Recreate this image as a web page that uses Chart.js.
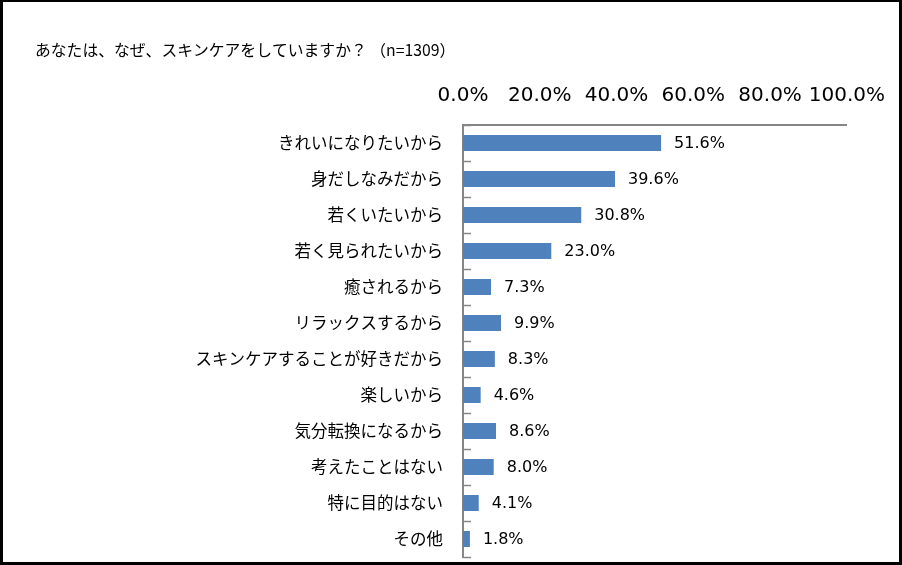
<!DOCTYPE html>
<html>
<head>
<meta charset="utf-8">
<script src="https://cdn.jsdelivr.net/npm/chart.js@4/dist/chart.umd.min.js"></script>
<style>
html,body{margin:0;padding:0;background:#fff;}
#wrap{position:absolute;left:0;top:0;width:902px;height:565px;}
</style>
</head>
<body>
<div id="wrap"><canvas id="c" width="902" height="565"></canvas></div>
<script>
const titleText = 'あなたは、なぜ、スキンケアをしていますか？ （n=1309）';
const categories = [
  'きれいになりたいから',
  '身だしなみだから',
  '若くいたいから',
  '若く見られたいから',
  '癒されるから',
  'リラックスするから',
  'スキンケアすることが好きだから',
  '楽しいから',
  '気分転換になるから',
  '考えたことはない',
  '特に目的はない',
  'その他'
];
const values = [51.6, 39.6, 30.8, 23.0, 7.3, 9.9, 8.3, 4.6, 8.6, 8.0, 4.1, 1.8];
const axisMin = 0;
const axisMax = 100;
const axisStep = 20;

const AXIS_COLOR = '#868686';
const BAR_COLOR = '#4F81BD';
const TITLE_SIZE = 15.8;

const framePlugin = {
  id: 'frame',
  beforeDraw(chart) {
    const ctx = chart.ctx;
    ctx.save();
    ctx.fillStyle = '#fff';
    ctx.fillRect(0, 0, chart.width, chart.height);
    ctx.restore();
  },
  afterDraw(chart) {
    const ctx = chart.ctx;
    const w = chart.width, h = chart.height;
    ctx.save();
    // inward category tick marks
    const ys = chart.scales.y;
    const left = chart.chartArea.left;
    ctx.strokeStyle = AXIS_COLOR;
    ctx.lineWidth = 1.5;
    for (let i = 0; i <= categories.length; i++) {
      const y = Math.round(ys.getPixelForValue(i - 0.5)) + 0.5;
      ctx.beginPath();
      ctx.moveTo(left, y);
      ctx.lineTo(left + 8, y);
      ctx.stroke();
    }
    // data labels
    const meta = chart.getDatasetMeta(0);
    ctx.fillStyle = '#000';
    ctx.font = '16px "DejaVu Sans", sans-serif';
    ctx.textBaseline = 'middle';
    ctx.textAlign = 'left';
    meta.data.forEach((bar, i) => {
      ctx.fillText(values[i].toFixed(1) + '%', bar.x + 13, bar.y + 1);
    });
    // outer frame
    ctx.fillStyle = '#000';
    ctx.fillRect(0, 0, w, 2);
    ctx.fillRect(0, 0, 3, h);
    ctx.fillRect(w - 3, 0, 3, h);
    ctx.fillRect(0, h - 3, w, 3);
    ctx.restore();
  }
};

new Chart(document.getElementById('c'), {
  type: 'bar',
  data: {
    labels: categories,
    datasets: [{
      data: values,
      backgroundColor: BAR_COLOR,
      borderWidth: 0,
      barPercentage: 0.45,
      categoryPercentage: 1.0
    }]
  },
  options: {
    indexAxis: 'y',
    responsive: false,
    animation: false,
    devicePixelRatio: 1,
    layout: { padding: { left: 35, right: 54, top: 0, bottom: 8 } },
    plugins: {
      legend: { display: false },
      tooltip: { enabled: false },
      title: {
        display: true,
        text: titleText,
        align: 'start',
        color: '#000',
        font: { family: '"Noto Sans CJK JP", sans-serif', size: TITLE_SIZE, weight: 'normal', lineHeight: 1.2 },
        padding: { top: 41, bottom: 5 }
      }
    },
    scales: {
      x: {
        position: 'top',
        min: axisMin,
        max: axisMax,
        ticks: {
          stepSize: axisStep,
          padding: 17,
          maxRotation: 0,
          minRotation: 0,
          autoSkip: false,
          color: '#000',
          font: { family: '"DejaVu Sans", sans-serif', size: 20 },
          callback: v => Number(v).toFixed(1) + '%'
        },
        grid: { display: false, drawTicks: false },
        border: { display: true, color: AXIS_COLOR, width: 2 },
        afterFit(scale) { scale.height = 125 - (41 + TITLE_SIZE * 1.2 + 5); }
      },
      y: {
        ticks: {
          padding: 20,
          autoSkip: false,
          color: '#000',
          font: { family: '"Noto Sans CJK JP", sans-serif', size: 16.5 }
        },
        grid: { display: true, drawOnChartArea: false, drawTicks: false },
        border: { display: true, color: AXIS_COLOR, width: 2 },
        afterFit(scale) {
          scale.width = 463 - 35;
          scale.paddingTop = 0;
          scale.paddingBottom = 0;
        }
      }
    }
  },
  plugins: [framePlugin]
});
</script>
</body>
</html>
